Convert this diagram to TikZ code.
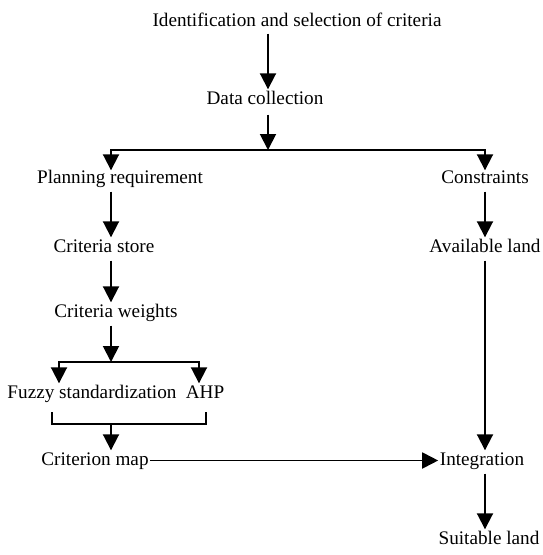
\documentclass[tikz,border=0pt]{standalone}
\usepackage{fontspec}
\setmainfont{Liberation Serif}
\usetikzlibrary{arrows.meta,calc}

\begin{document}
\begin{tikzpicture}[x=1pt,y=-1pt,
	lab/.style={anchor=base,inner sep=1.5pt,text height=13pt,text depth=4pt,font=\fontsize{19.2}{22}\selectfont},
	fl/.style={line width=1.9pt,-{Triangle[length=16pt,width=16pt]}},
	ln/.style={line width=1.9pt}]
	\useasboundingbox (0,0) rectangle (542,555);
	%NOEUDS (point = ligne de base)
	\node[lab] (ident) at (297,26) {Identification and selection of criteria};
	\node[lab] (data) at (265,104) {Data collection};
	\node[lab] (plan) at (120,183) {Planning requirement};
	\node[lab] (constr) at (485,183) {Constraints};
	\node[lab] (store) at (104,252) {Criteria store};
	\node[lab] (avail) at (485,252) {Available land};
	\node[lab] (weights) at (116,317) {Criteria weights};
	\node[lab] (fuzzy) at (92,398) {Fuzzy standardization};
	\node[lab] (ahp) at (205,398) {AHP};
	\node[lab] (critmap) at (95,465) {Criterion map};
	\node[lab] (integr) at (482,465) {Integration};
	\node[lab] (suit) at (489,544) {Suitable land};
	%colonnes
	\coordinate (xm) at (268,0);
	\coordinate (xl) at (111,0);
	\coordinate (xr) at (485,0);
	\coordinate (xf) at (59,0);
	\coordinate (xa) at (199,0);
	%branchements
	\coordinate (b1) at (268,150);
	\coordinate (b2) at (111,362);
	\coordinate (b3) at (111,424);
	
	\draw[fl] ($(ident.south -| xm)+(0,2)$) -- (data.north -| xm);
	\draw[fl] ($(data.south -| xm)+(0,5)$) -- (b1);
	\draw[ln] (111,150) -- (485,150);
	\draw[fl] (111,149.1) -- ($(plan.north -| xl)+(0,2)$);
	\draw[fl] (485,149.1) -- ($(constr.north -| xr)+(0,2)$);
	
	\draw[fl] ($(plan.south -| xl)+(0,3)$) -- (store.north -| xl);
	\draw[fl] ($(store.south -| xl)+(0,3)$) -- (weights.north -| xl);
	\draw[fl] ($(weights.south -| xl)+(0,3)$) -- (b2);
	\draw[ln] (59,362) -- (199,362);
	\draw[fl] (59,361.1) -- (fuzzy.north -| xf);
	\draw[fl] (199,361.1) -- (ahp.north -| xa);
	
	\draw[ln] (52,412) |- (206,424) -- (206,412);
	\draw[fl] (b3) -- (critmap.north -| xl);
	\draw[fl] (critmap.east) -- (integr.west);
	
	\draw[fl] ($(constr.south -| xr)+(0,3)$) -- (avail.north -| xr);
	\draw[fl] ($(avail.south -| xr)+(0,3)$) -- (integr.north -| xr);
	\draw[fl] ($(integr.south -| xr)+(0,3)$) -- (suit.north -| xr);
\end{tikzpicture}
\end{document}
